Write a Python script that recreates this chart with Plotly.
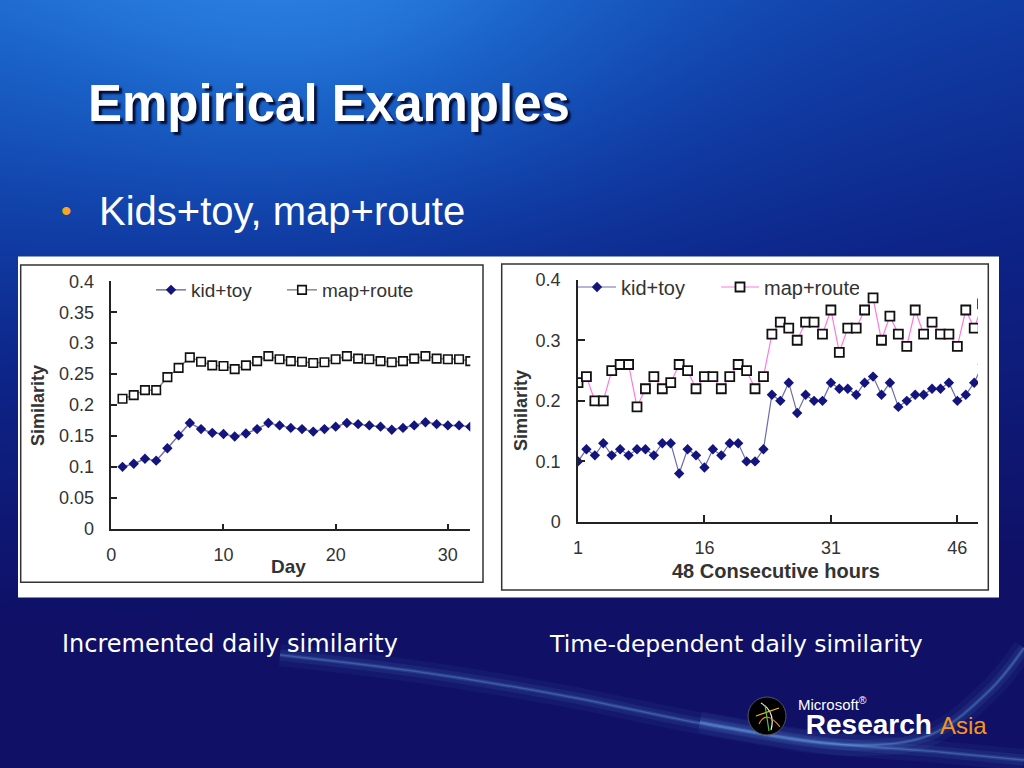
import numpy as np
import plotly.graph_objects as go

W, H = 1024, 768

# ---------------- data ----------------
days = list(range(1, 33))
kid_daily = [0.100, 0.105, 0.113, 0.110, 0.130, 0.151, 0.171, 0.161, 0.155, 0.153,
             0.149, 0.154, 0.161, 0.171, 0.167, 0.163, 0.161, 0.157, 0.161, 0.165,
             0.171, 0.169, 0.167, 0.165, 0.160, 0.163, 0.167, 0.172, 0.169, 0.167,
             0.167, 0.165]
map_daily = [0.210, 0.216, 0.224, 0.224, 0.245, 0.260, 0.277, 0.270, 0.264, 0.263,
             0.258, 0.264, 0.271, 0.279, 0.274, 0.271, 0.270, 0.268, 0.269, 0.274,
             0.279, 0.275, 0.274, 0.271, 0.269, 0.271, 0.275, 0.279, 0.275, 0.274,
             0.274, 0.271]

hours = list(range(1, 50))
kid_hourly = [0.10, 0.12, 0.11, 0.13, 0.11, 0.12, 0.11, 0.12, 0.12, 0.11,
              0.13, 0.13, 0.08, 0.12, 0.11, 0.09, 0.12, 0.11, 0.13, 0.13,
              0.10, 0.10, 0.12, 0.21, 0.20, 0.23, 0.18, 0.21, 0.20, 0.20,
              0.23, 0.22, 0.22, 0.21, 0.23, 0.24, 0.21, 0.23, 0.19, 0.20,
              0.21, 0.21, 0.22, 0.22, 0.23, 0.20, 0.21, 0.23, 0.26]
map_hourly = [0.23, 0.24, 0.20, 0.20, 0.25, 0.26, 0.26, 0.19, 0.22, 0.24,
              0.22, 0.23, 0.26, 0.25, 0.22, 0.24, 0.24, 0.22, 0.24, 0.26,
              0.25, 0.22, 0.24, 0.31, 0.33, 0.32, 0.30, 0.33, 0.33, 0.31,
              0.35, 0.28, 0.32, 0.32, 0.35, 0.37, 0.30, 0.34, 0.31, 0.29,
              0.35, 0.31, 0.33, 0.31, 0.31, 0.29, 0.35, 0.32, 0.36]

left_yticks = [0, 0.05, 0.1, 0.15, 0.2, 0.25, 0.3, 0.35, 0.4]
left_yticklabels = ["0", "0.05", "0.1", "0.15", "0.2", "0.25", "0.3", "0.35", "0.4"]
left_xticks = [0, 10, 20, 30]
right_yticks = [0, 0.1, 0.2, 0.3, 0.4]
right_yticklabels = ["0", "0.1", "0.2", "0.3", "0.4"]
right_xticks = [1, 16, 31, 46]

series_names = ["kid+toy", "map+route"]
title_text = "Empirical Examples"
bullet_text = "Kids+toy, map+route"
caption_left = "Incremented daily similarity"
caption_right = "Time-dependent daily similarity"

SANS = "Liberation Sans, Arial, sans-serif"
CAPF = "DejaVu Sans, Noto Sans, sans-serif"
TXT = "#333333"
NAVY = "#14147e"

fig = go.Figure()

# ---------------- slide background (gradient) ----------------
gx = np.linspace(0, W, 65)
gy = np.linspace(0, H, 49)
GX, GY = np.meshgrid(gx, gy)
val = (1 - GY / 620.0) * 0.75 + 0.3 * np.exp(-((GX - 320) / 330.0) ** 2 - (GY / 220.0) ** 2) \
      - 0.25 * (GX / W) * (1 - GY / H)
val = np.clip(val, 0, 1)
fig.add_trace(go.Heatmap(
    x=gx, y=gy, z=val, zmin=0, zmax=1, zsmooth="best", showscale=False,
    hoverinfo="skip", xaxis="x", yaxis="y",
    colorscale=[[0, "#0f1066"], [0.3, "#0d2488"], [0.55, "#1142aa"],
                [0.8, "#1a62c8"], [1, "#2a80e0"]]))

# light streaks near bottom
streak1_x = [280, 420, 560, 720, 850, 930, 990, 1024]
streak1_y = [655, 672, 695, 727, 745, 735, 690, 648]
streak2_x = [700, 820, 940, 1024]
streak2_y = [722, 742, 752, 760]
for sx, sy in [(streak1_x, streak1_y), (streak2_x, streak2_y)]:
    for wdt, op in [(22, 0.05), (11, 0.08), (4, 0.13), (1.5, 0.25)]:
        fig.add_trace(go.Scatter(
            x=sx, y=sy, mode="lines", line=dict(color="#7cc0ff", width=wdt, shape="spline"),
            opacity=op, hoverinfo="skip", showlegend=False, xaxis="x", yaxis="y"))

# white panel behind both charts
fig.add_trace(go.Scatter(
    x=[18, 999, 999, 18, 18], y=[256.5, 256.5, 597.5, 597.5, 256.5],
    mode="lines", fill="toself", fillcolor="white", line=dict(width=0),
    hoverinfo="skip", showlegend=False, xaxis="x", yaxis="y"))

# ---------------- left chart ----------------
fig.add_trace(go.Scatter(
    x=days, y=kid_daily, name=series_names[0], mode="lines+markers",
    line=dict(color="#7676a6", width=1.5),
    marker=dict(symbol="diamond", size=8, color=NAVY, line=dict(width=0)),
    xaxis="x2", yaxis="y2", legend="legend"))
fig.add_trace(go.Scatter(
    x=days, y=map_daily, name=series_names[1], mode="lines+markers",
    line=dict(color="#888888", width=1.5),
    marker=dict(symbol="square", size=8.5, color="white", line=dict(width=1.6, color="#111111")),
    xaxis="x2", yaxis="y2", legend="legend"))

# ---------------- right chart ----------------
fig.add_trace(go.Scatter(
    x=hours, y=kid_hourly, name=series_names[0], mode="lines+markers",
    line=dict(color="#6c6caa", width=1.2),
    marker=dict(symbol="diamond", size=8, color=NAVY, line=dict(width=0)),
    xaxis="x3", yaxis="y3", legend="legend2"))
fig.add_trace(go.Scatter(
    x=hours, y=map_hourly, name=series_names[1], mode="lines+markers",
    line=dict(color="#ff78e2", width=1.2),
    marker=dict(symbol="square", size=9, color="white", line=dict(width=1.8, color="#111111")),
    xaxis="x3", yaxis="y3", legend="legend2"))

axis_common = dict(showline=True, linecolor="#222222", linewidth=1.5, ticks="inside",
                   tickcolor="#222222", tickwidth=1.5, showgrid=False, zeroline=False,
                   tickfont=dict(family=SANS, size=18, color=TXT), fixedrange=True)

fig.update_layout(
    width=W, height=H, margin=dict(l=0, r=0, t=0, b=0, pad=0, autoexpand=False),
    paper_bgcolor="#0f1066", plot_bgcolor="rgba(0,0,0,0)", hovermode=False,
    xaxis=dict(domain=[0, 1], range=[0, W], visible=False, fixedrange=True),
    yaxis=dict(domain=[0, 1], range=[H, 0], visible=False, fixedrange=True),
    xaxis2=dict(domain=[111.3 / W, 470.3 / W], range=[0, 32], anchor="y2",
                tickvals=left_xticks, ticklen=5, ticklabelstandoff=9, **axis_common),
    yaxis2=dict(domain=[1 - 528.7 / H, 1 - 281.3 / H], range=[0, 0.4], anchor="x2",
                tickvals=left_yticks, ticktext=left_yticklabels, ticklen=6,
                ticklabelstandoff=12, **axis_common),
    xaxis3=dict(domain=[578 / W, 978 / W], range=[1, 48.45], anchor="y3",
                tickvals=right_xticks, ticklen=7, ticklabelstandoff=9, **axis_common),
    yaxis3=dict(domain=[1 - 522 / H, 1 - 279.7 / H], range=[0, 0.4], anchor="x3",
                tickvals=right_yticks, ticktext=right_yticklabels, ticklen=7,
                ticklabelstandoff=12, **axis_common),
    legend=dict(x=151 / W, y=1 - 290 / H, xanchor="left", yanchor="middle",
                orientation="h", bgcolor="rgba(0,0,0,0)", itemclick=False,
                font=dict(family=SANS, size=19, color=TXT),
                entrywidth=86, entrywidthmode="pixels"),
    legend2=dict(x=573 / W, y=1 - 287 / H, xanchor="left", yanchor="middle",
                 orientation="h", bgcolor="rgba(0,0,0,0)", itemclick=False,
                 font=dict(family=SANS, size=20, color=TXT), itemwidth=38,
                 entrywidth=90, entrywidthmode="pixels"),
)

# borders around charts
fig.add_shape(type="rect", xref="x", yref="y", x0=20.7, x1=483, y0=265, y1=582.3,
              line=dict(color="#333333", width=1.5), layer="above")
fig.add_shape(type="rect", xref="x", yref="y", x0=501.7, x1=988.3, y0=264, y1=590,
              line=dict(color="#333333", width=1.5), layer="above")

# logo
fig.add_shape(type="circle", xref="x", yref="y", x0=748, x1=786, y0=697, y1=735,
              fillcolor="black", line=dict(color="#556", width=1), layer="above")
for path, col in [("M 761 703 Q 776 712 771 730", "#f0f0f0"),
                  ("M 756 716 L 779 708", "#f2c200"),
                  ("M 759 724 Q 766 709 780 727", "#f08a20"),
                  ("M 765 705 L 769 731", "#5cc040")]:
    fig.add_shape(type="path", xref="x", yref="y", path=path,
                  line=dict(color=col, width=1.2), layer="above")

def ann(text, x, y, size, color="white", family=SANS, xanchor="left", angle=0, **kw):
    fig.add_annotation(text=text, x=x, y=y, xref="x", yref="y", showarrow=False,
                       xanchor=xanchor, yanchor="middle", textangle=angle, align="left",
                       font=dict(family=family, size=size, color=color, **kw))

ann("<b>" + title_text + "</b>", 86, 103, 51, shadow="3px 3px 2px rgba(0,0,30,0.85)")
ann("•", 59, 210, 30, color="#f5a623")
ann(bullet_text, 97, 211, 40)

# axis titles
ann("<b>Similarity</b>", 38, 406, 18, color=TXT, xanchor="center", angle=-90)
ann("<b>Day</b>", 288, 566, 19, color=TXT, xanchor="center")
ann("<b>Similarity</b>", 521, 411, 18, color=TXT, xanchor="center", angle=-90)
ann("<b>48 Consecutive hours</b>", 776, 571, 20, color=TXT, xanchor="center")

# captions
ann(caption_left, 60, 644, 24, family=CAPF)
ann(caption_right, 547, 644, 23.5, family=CAPF)

# logo text
ann("<span style='font-size:15px'>Microsoft<sup>®</sup></span><br>"
    "<span style='font-size:28px'><b>&nbsp;Research</b></span>", 796, 717, 18)
ann("Asia", 938, 725, 24, color="#f7941d")

fig.write_html("out.html", config={"displayModeBar": False},
               post_script="document.body.style.margin='0';"
                           "document.body.style.overflow='hidden';")
